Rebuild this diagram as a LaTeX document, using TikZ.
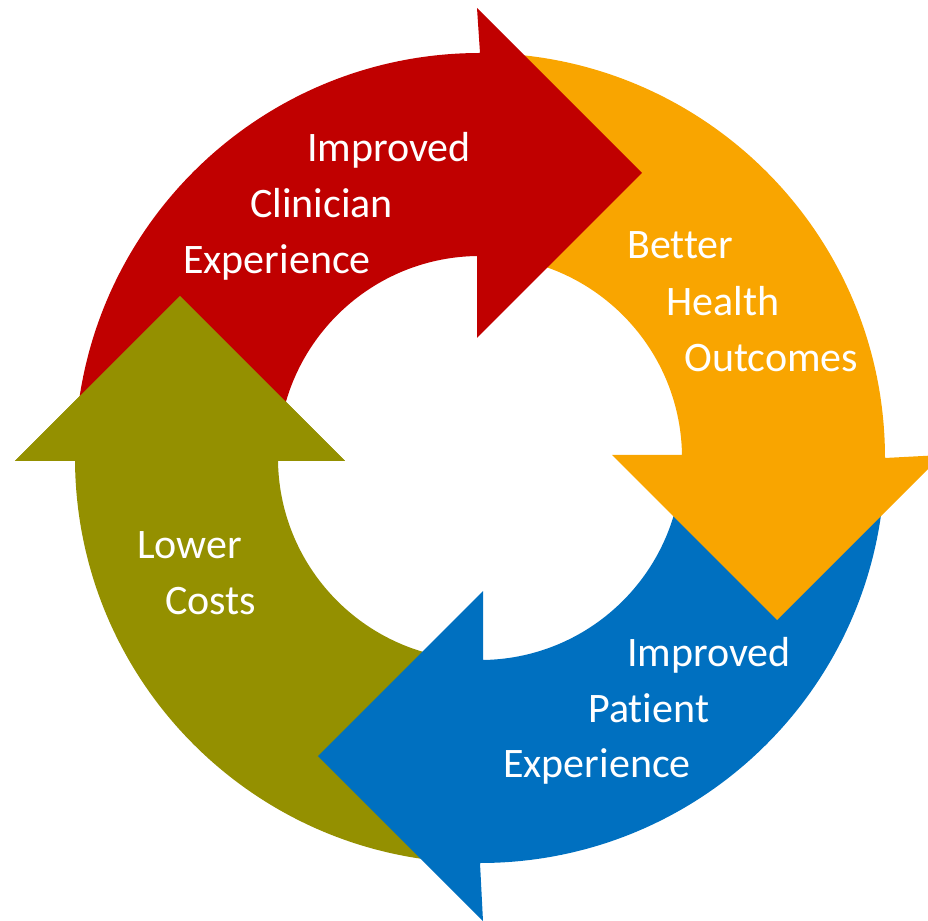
\documentclass[tikz,border=0pt]{standalone}
\usepackage{fontspec}
\setmainfont{Carlito}[Ligatures={NoCommon}]
\definecolor{cycred}{RGB}{192,0,0}
\definecolor{cycorange}{RGB}{249,165,0}
\definecolor{cycblue}{RGB}{0,112,192}
\definecolor{cycolive}{RGB}{148,144,0}
\begin{document}
\begin{tikzpicture}[x=1pt,y=1pt,
  lbl/.style={anchor=base west,inner sep=0pt,text=white,font=\fontsize{42}{50}\selectfont}]
\useasboundingbox (-480,-462) rectangle (448,458);

% arrows: olive, blue, orange, red (head of each at 90deg before rotation)
\foreach \rot/\col/\hm in {90/cycolive/300,-180/cycblue/298,-90/cycorange/297,0/cycred/285}
  \fill[\col,rotate=\rot] (180:405pt) arc[start angle=180,end angle=90,radius=405pt]
     -- (-3,\hm+165) -- (162,\hm) -- (-3,\hm-165) -- (-3,202)
     arc[start angle=90.85,end angle=180,radius=202pt] -- cycle;
% olive head again, on top of the red tail
\fill[cycolive,rotate=90] (-3,465) -- (162,300) -- (-3,135) -- cycle;

%red
\begin{scope}
\node[lbl] (clin1) at (-173, 296) {Improved};
\node[lbl] (clin2) at (-230, 240) {Clinician};
\node[lbl] (clin3) at (-297, 184) {Experience};
\end{scope}
%orange
\begin{scope}
\node[lbl] (hlth1) at (147, 199) {Better};
\node[lbl] (hlth2) at (186, 142) {Health};
\node[lbl] (hlth3) at (204, 86) {Outcomes};
\end{scope}
%blue
\begin{scope}
\node[lbl] (pat1) at (147, -208) {Improved};
\node[lbl] (pat2) at (108, -264) {Patient};
\node[lbl] (pat3) at (23, -319) {Experience};
\end{scope}
%olive
\begin{scope}
\node[lbl] (cost1) at (-343, -100) {Lower};
\node[lbl] (cost2) at (-315, -156) {Costs};
\end{scope}
\end{tikzpicture}
\end{document}
